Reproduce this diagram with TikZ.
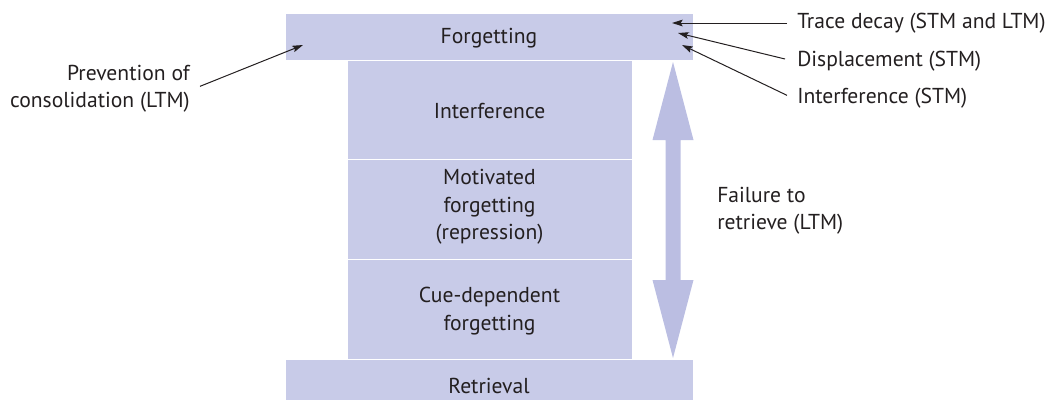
\documentclass[tikz,border=0pt]{standalone}
\usepackage{fontspec}
\setmainfont{PT Sans}
\usetikzlibrary{arrows.meta}
\definecolor{boxfill}{HTML}{C8CBE8}
\definecolor{arrowfill}{HTML}{BBBEE2}
\definecolor{ink}{HTML}{231F20}
\begin{document}
\begin{tikzpicture}[x=0.75pt,y=-0.75pt,
  box/.style={fill=boxfill, draw=white, line width=0.75pt, inner sep=0pt,
    minimum width={#1*0.75pt}},
  lbl/.style={font=\fontsize{16.2}{20.5}\selectfont, text=ink, inner sep=0pt},
  ptr/.style={draw=ink, line width=0.75pt, -{Stealth[length=8pt,width=5pt,inset=1.5pt]}}]
\useasboundingbox (0,0) rectangle (1047,400);
% boxes
\node[box=408, minimum height={47*0.75pt}] (forg) at (489,36.5) {};
\node[box=285, minimum height={99*0.75pt}] (inter) at (489.5,109.5) {};
\node[box=285, minimum height={100*0.75pt}] (motiv) at (489.5,209) {};
\node[box=285, minimum height={100*0.75pt}] (cue) at (489.5,309) {};
\node[box=408, minimum height={51*0.75pt}] (retr) at (489,384.5) {};
% box texts
\node[lbl] (forgt) at (489,38) {Forgetting};
\node[lbl] (intert) at (489.5,111) {Interference};
\node[lbl, align=center] (motivt) at (489.5,207) {Motivated\\forgetting\\(repression)};
\node[lbl, align=center] (cuet) at (489.5,311) {Cue-dependent\\forgetting};
\node[lbl] (retrt) at (489,386) {Retrieval};
% double arrow
\fill[arrowfill] (673,62) -- (693.5,140) -- (680.5,140) -- (680.5,280) -- (693.5,280)
  -- (673,358) -- (652.5,280) -- (665.5,280) -- (665.5,140) -- (652.5,140) -- cycle;
% side labels
\node[lbl, anchor=west] (trace) at (797,23) {Trace decay (STM and LTM)};
\node[lbl, anchor=west] (disp) at (797,61) {Displacement (STM)};
\node[lbl, anchor=west] (istm) at (797,98) {Interference (STM)};
\node[lbl, align=right, anchor=east] (prev) at (190,89) {Prevention of\\consolidation (LTM)};
\node[lbl, align=left, anchor=west] (fail) at (717,211) {Failure to\\retrieve (LTM)};
% pointer targets
\coordinate (t1) at (672,23);
\coordinate (t2) at (678,33);
\coordinate (t3) at (682,45);
\coordinate (t4) at (303,45);
\draw[ptr] ([xshift=-7.5pt]trace.west) -- (t1);
\draw[ptr] ([xshift=-9pt,yshift=1.5pt]disp.west) -- (t2);
\draw[ptr] ([xshift=-7.5pt,yshift=2pt]istm.west) -- (t3);
\draw[ptr] ([xshift=7.5pt,yshift=2pt]prev.east) -- (t4);
\end{tikzpicture}
\end{document}
